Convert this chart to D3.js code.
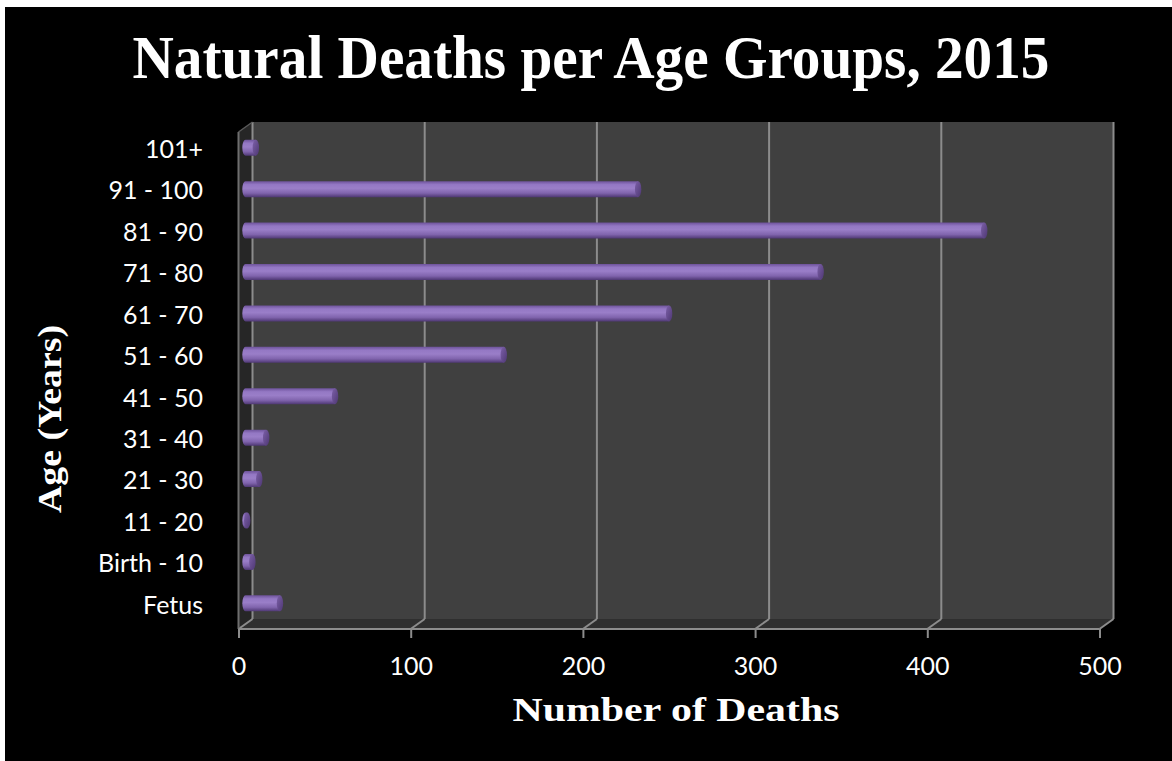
<!DOCTYPE html>
<html>
<head>
<meta charset="utf-8">
<script src="https://cdn.jsdelivr.net/npm/d3@7/dist/d3.min.js"></script>
<style>
  html, body { margin: 0; padding: 0; background: #ffffff; }
  svg { display: block; }
</style>
</head>
<body>
<svg id="chart" width="1172" height="761"></svg>
<script>
// Age groups, bottom to top as drawn
const categories = ["Fetus", "Birth - 10", "11 - 20", "21 - 30", "31 - 40", "41 - 50",
                    "51 - 60", "61 - 70", "71 - 80", "81 - 90", "91 - 100", "101+"];
const deaths = [20, 4, 1, 8, 12, 52, 150, 246, 334, 429, 228, 6];
const xTicks = [0, 100, 200, 300, 400, 500];

const svg = d3.select("#chart");
const W = 1172, H = 761;

// black chart area
svg.append("rect").attr("x", 5).attr("y", 7).attr("width", W - 5).attr("height", H - 7).attr("fill", "#000");

// oblique 3D frame: front plane and depth offset
const front = { left: 238.5, right: 1099.5, top: 132, bottom: 629 };
const depth = { dx: 14, dy: -10 };

const x = d3.scaleLinear().domain([0, 500]).range([front.left, front.right]);
const y = d3.scaleBand().domain(categories).range([front.bottom, front.top]).paddingInner(0).paddingOuter(0);

const back = (px, py) => [px + depth.dx, py + depth.dy];

// back wall
const bl = back(x(0), front.top), br = back(x(500), front.bottom);
svg.append("rect")
  .attr("x", bl[0]).attr("y", bl[1])
  .attr("width", br[0] - bl[0]).attr("height", br[1] - bl[1])
  .attr("fill", "#404040");

// floor
const floorPts = [[x(0), front.bottom], back(x(0), front.bottom), back(x(500), front.bottom), [x(500), front.bottom]];
svg.append("polygon").attr("points", floorPts.map(p => p.join(",")).join(" ")).attr("fill", "#2f2f2f");

// side wall
const sidePts = [[x(0), front.top], back(x(0), front.top), back(x(0), front.bottom), [x(0), front.bottom]];
svg.append("polygon").attr("points", sidePts.map(p => p.join(",")).join(" ")).attr("fill", "#262626");

const gridColor = "#8c8c8c";

// gridlines on the back wall and floor
xTicks.forEach(t => {
  const top = back(x(t), front.top), bot = back(x(t), front.bottom);
  svg.append("line").attr("x1", top[0]).attr("y1", top[1]).attr("x2", bot[0]).attr("y2", bot[1])
    .attr("stroke", gridColor).attr("stroke-width", 2);
  svg.append("line").attr("x1", bot[0]).attr("y1", bot[1]).attr("x2", x(t)).attr("y2", front.bottom)
    .attr("stroke", gridColor).attr("stroke-width", 2);
});

// side wall front edge
svg.append("line").attr("x1", x(0)).attr("y1", front.top).attr("x2", x(0)).attr("y2", front.bottom)
  .attr("stroke", "#6e6e6e").attr("stroke-width", 2);
svg.append("line").attr("x1", x(0)).attr("y1", front.top).attr("x2", bl[0]).attr("y2", bl[1])
  .attr("stroke", "#5a5a5a").attr("stroke-width", 1.5);

// value axis along the front edge of the floor
const xAxis = d3.axisBottom(x).tickValues(xTicks).tickSize(9).tickPadding(18).tickFormat(d3.format("d"));
const gx = svg.append("g").attr("transform", `translate(0,${front.bottom})`).call(xAxis);
gx.select(".domain").attr("stroke", gridColor).attr("stroke-width", 2).attr("d", `M${x(0)},0H${x(500)}`);
gx.selectAll(".tick line").attr("stroke", gridColor).attr("stroke-width", 2);
gx.selectAll(".tick text").attr("fill", "#fff").attr("font-family", "Lato, 'Open Sans', sans-serif")
  .attr("font-size", 25).attr("dy", "0.75em");

// category labels
const gy = svg.append("g");
gy.selectAll("text").data(categories).join("text")
  .attr("x", 203)
  .attr("y", d => y(d) + y.bandwidth() / 2 - 1)
  .attr("text-anchor", "end")
  .attr("dominant-baseline", "middle")
  .attr("fill", "#fff")
  .attr("font-family", "Lato, 'Open Sans', sans-serif")
  .attr("font-size", 25)
  .text(d => d);

// cylinder bars at mid depth
const defs = svg.append("defs");
const bodyGrad = defs.append("linearGradient").attr("id", "cylBody").attr("x1", 0).attr("y1", 0).attr("x2", 0).attr("y2", 1);
[["0%", "#6d529a"], ["22%", "#9478c4"], ["45%", "#9a7ec8"], ["75%", "#8064ad"], ["100%", "#4f3874"]]
  .forEach(([o, c]) => bodyGrad.append("stop").attr("offset", o).attr("stop-color", c));
const capGrad = defs.append("linearGradient").attr("id", "cylCap").attr("x1", 0).attr("y1", 0).attr("x2", 1).attr("y2", 1);
[["0%", "#7c60a8"], ["100%", "#4e3773"]]
  .forEach(([o, c]) => capGrad.append("stop").attr("offset", o).attr("stop-color", c));

const midX = v => x(v) + depth.dx / 2;
const midY = d => y(d) + y.bandwidth() / 2 + depth.dy / 2;
const r = 8, rx = 3.2;

const bars = svg.append("g").selectAll("g").data(categories.map((c, i) => ({ c, v: deaths[i] }))).join("g");

// rounded left end and body
bars.append("path")
  .attr("d", d => {
    const x0 = midX(0), x1 = midX(d.v), cy = midY(d.c);
    return `M${x1},${cy - r} L${x0},${cy - r} A${rx},${r} 0 0 0 ${x0},${cy + r} L${x1},${cy + r} Z`;
  })
  .attr("fill", "url(#cylBody)");

// end cap
bars.append("ellipse")
  .attr("cx", d => midX(d.v))
  .attr("cy", d => midY(d.c))
  .attr("rx", rx)
  .attr("ry", r)
  .attr("fill", "url(#cylCap)");

const serif = "'Liberation Serif', 'DejaVu Serif', serif";

// title
svg.append("text")
  .attr("x", 591).attr("y", 78)
  .attr("text-anchor", "middle")
  .attr("fill", "#fff")
  .attr("font-family", serif)
  .attr("font-weight", "bold")
  .attr("font-size", 61)
  .attr("textLength", 917)
  .attr("lengthAdjust", "spacingAndGlyphs")
  .text("Natural Deaths per Age Groups, 2015");

// axis titles
svg.append("text")
  .attr("x", 676).attr("y", 721)
  .attr("text-anchor", "middle")
  .attr("fill", "#fff")
  .attr("font-family", serif)
  .attr("font-weight", "bold")
  .attr("font-size", 33)
  .attr("textLength", 327)
  .attr("lengthAdjust", "spacingAndGlyphs")
  .text("Number of Deaths");

svg.append("text")
  .attr("transform", "translate(61,419) rotate(-90)")
  .attr("text-anchor", "middle")
  .attr("fill", "#fff")
  .attr("font-family", serif)
  .attr("font-weight", "bold")
  .attr("font-size", 34)
  .attr("textLength", 188)
  .attr("lengthAdjust", "spacingAndGlyphs")
  .text("Age (Years)");
</script>
</body>
</html>
